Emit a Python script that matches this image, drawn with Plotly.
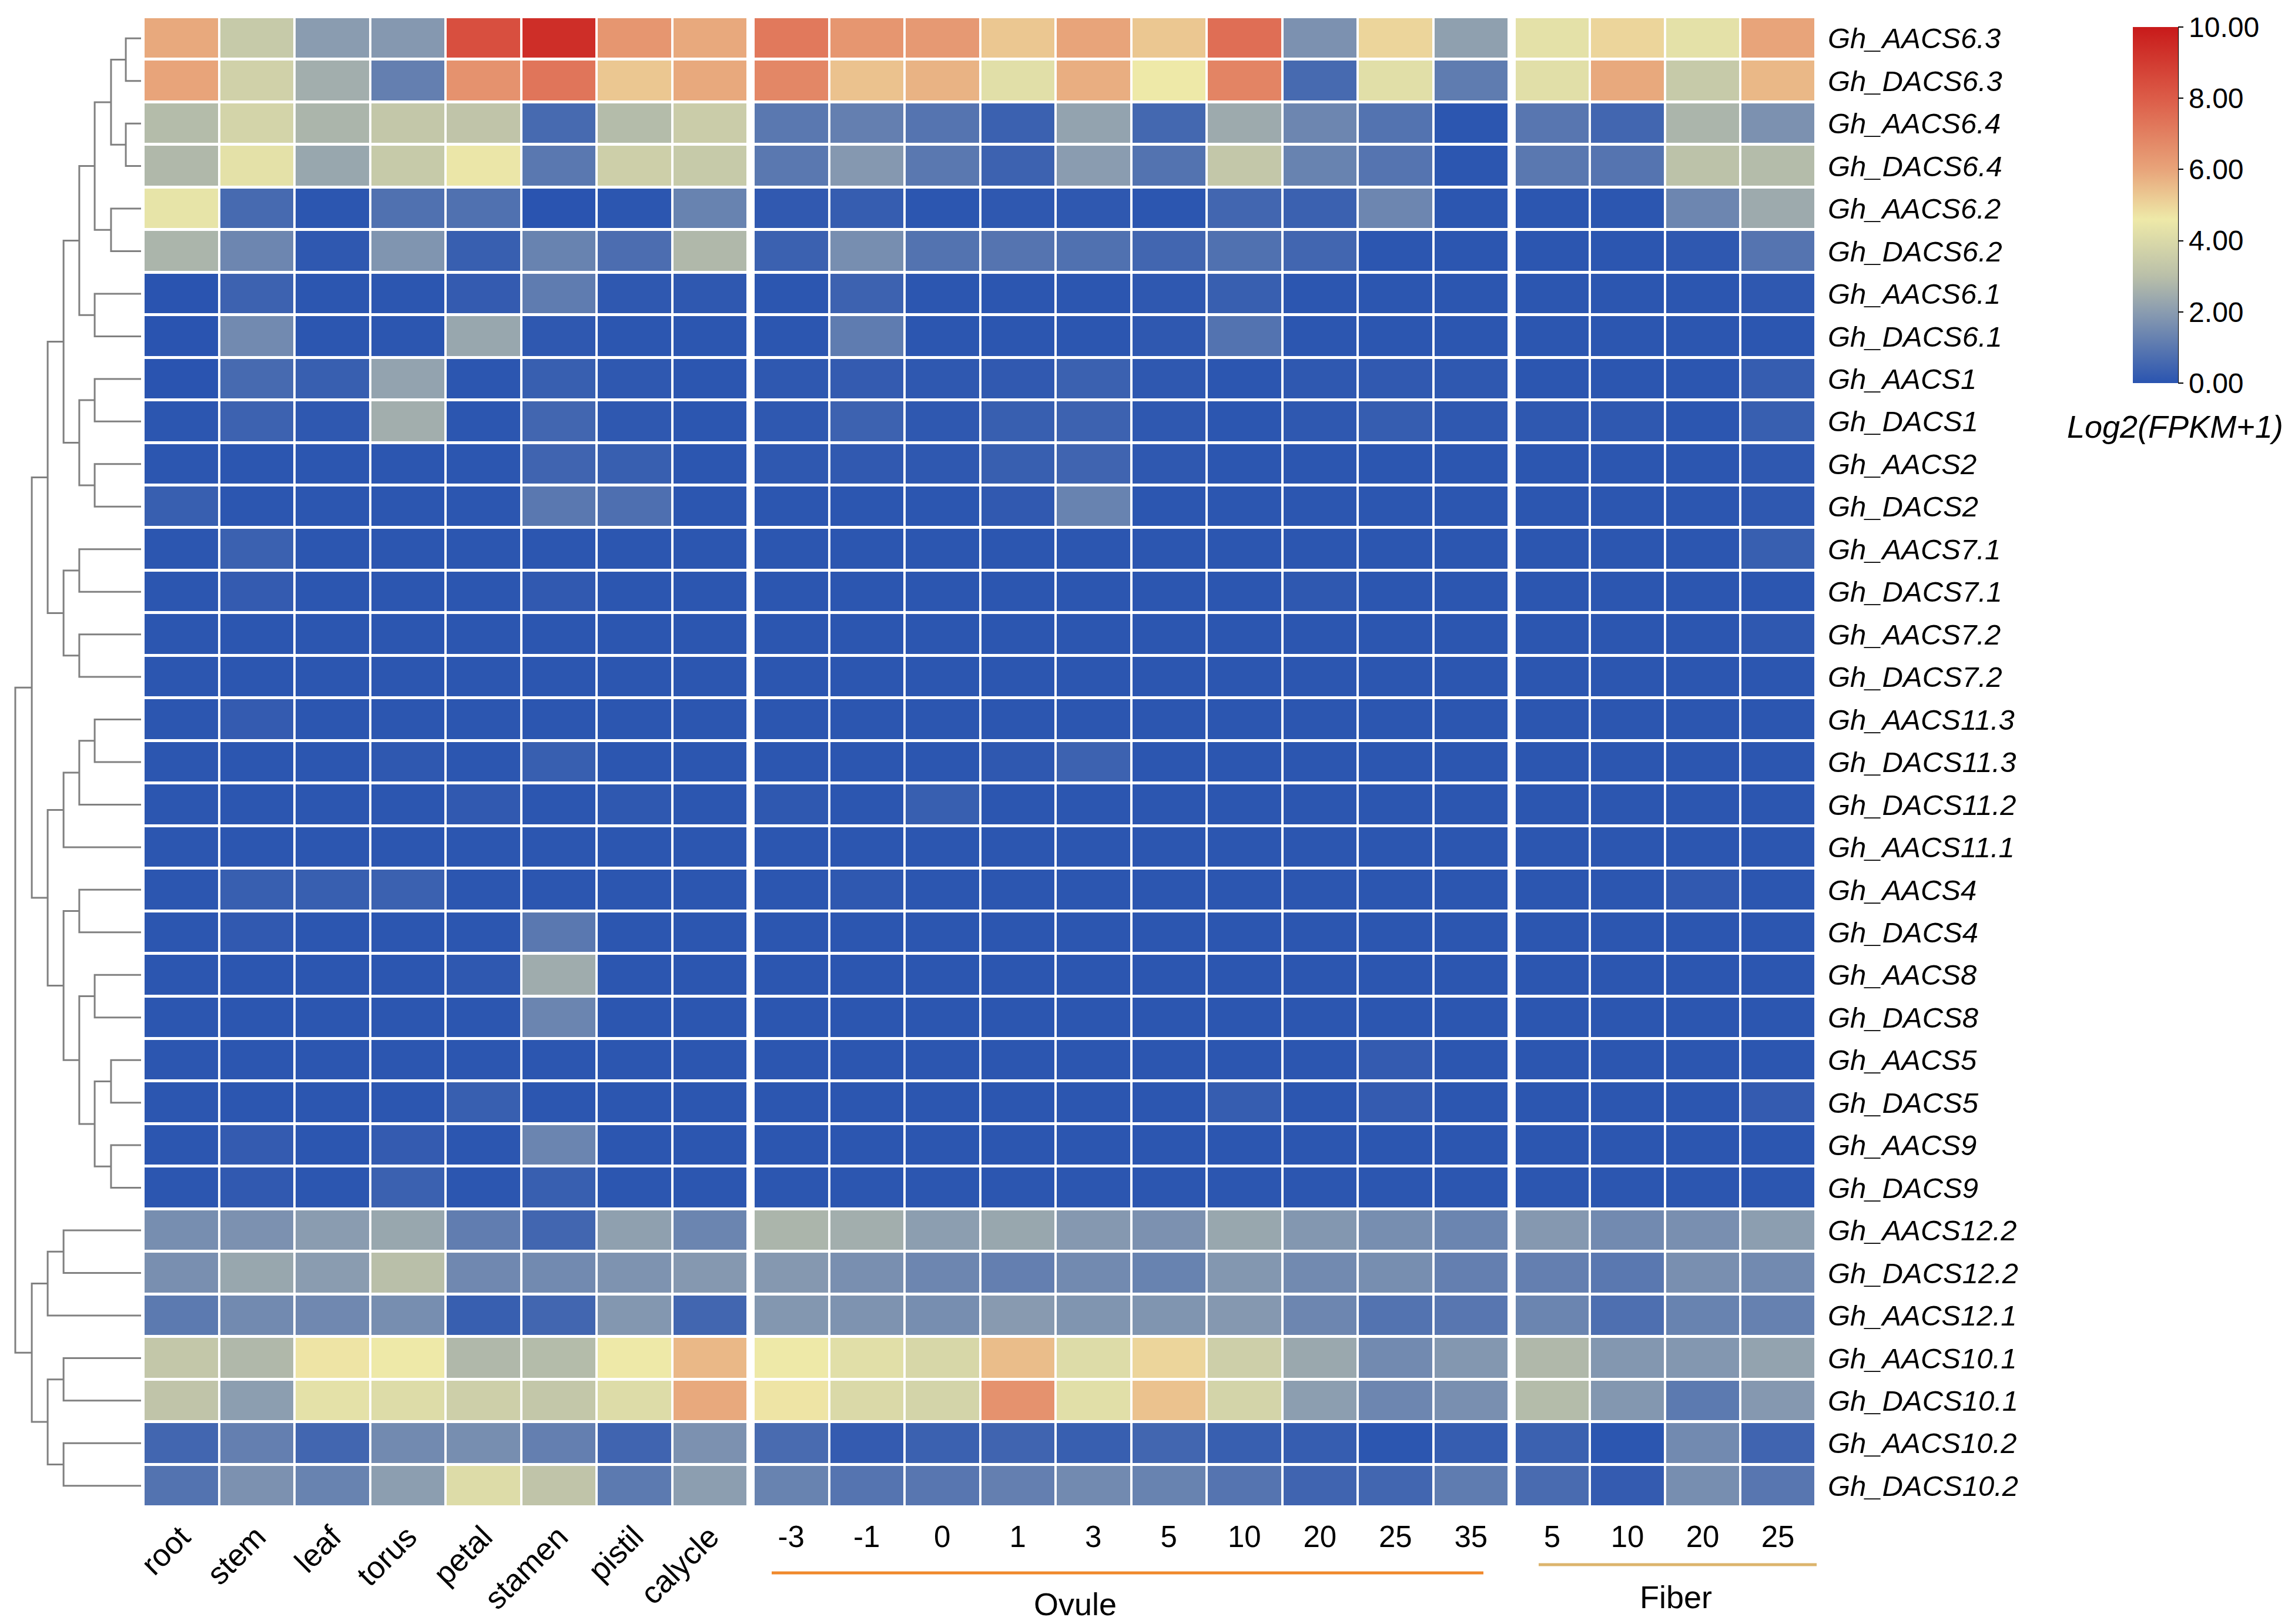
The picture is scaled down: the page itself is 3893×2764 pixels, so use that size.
import plotly.graph_objects as go

W, H = 3893, 2764
FONT = "Liberation Sans, Arial, sans-serif"

genes = [
    "Gh_AACS6.3", "Gh_DACS6.3", "Gh_AACS6.4", "Gh_DACS6.4", "Gh_AACS6.2", "Gh_DACS6.2",
    "Gh_AACS6.1", "Gh_DACS6.1", "Gh_AACS1", "Gh_DACS1", "Gh_AACS2", "Gh_DACS2",
    "Gh_AACS7.1", "Gh_DACS7.1", "Gh_AACS7.2", "Gh_DACS7.2", "Gh_AACS11.3", "Gh_DACS11.3",
    "Gh_DACS11.2", "Gh_AACS11.1", "Gh_AACS4", "Gh_DACS4", "Gh_AACS8", "Gh_DACS8",
    "Gh_AACS5", "Gh_DACS5", "Gh_AACS9", "Gh_DACS9", "Gh_AACS12.2", "Gh_DACS12.2",
    "Gh_AACS12.1", "Gh_AACS10.1", "Gh_DACS10.1", "Gh_AACS10.2", "Gh_DACS10.2",
]
tissues = ["root", "stem", "leaf", "torus", "petal", "stamen", "pistil", "calycle"]
ovule_days = ["-3", "-1", "0", "1", "3", "5", "10", "20", "25", "35"]
fiber_days = ["5", "10", "20", "25"]

# log2(FPKM+1)
tissue_values = [
    [5.9, 3.4, 2.0, 1.9, 8.4, 9.4, 6.4, 5.9],
    [6.0, 3.7, 2.5, 1.2, 6.5, 7.3, 5.3, 5.9],
    [2.9, 3.8, 2.7, 3.3, 3.2, 0.6, 2.9, 3.5],
    [2.8, 4.3, 2.3, 3.4, 4.5, 1.0, 3.6, 3.4],
    [4.4, 0.6, 0.05, 0.8, 0.8, 0.0, 0.05, 1.3],
    [2.7, 1.4, 0.1, 1.8, 0.3, 1.3, 0.7, 2.8],
    [0.0, 0.4, 0.05, 0.05, 0.2, 1.1, 0.1, 0.1],
    [0.0, 1.5, 0.05, 0.05, 2.3, 0.1, 0.05, 0.05],
    [0.0, 0.6, 0.3, 2.2, 0.05, 0.3, 0.1, 0.05],
    [0.05, 0.4, 0.1, 2.5, 0.05, 0.5, 0.1, 0.05],
    [0.05, 0.05, 0.05, 0.05, 0.05, 0.45, 0.3, 0.05],
    [0.3, 0.05, 0.05, 0.05, 0.05, 1.0, 0.75, 0.05],
    [0.05, 0.35, 0.05, 0.05, 0.05, 0.05, 0.05, 0.05],
    [0.05, 0.2, 0.05, 0.05, 0.05, 0.15, 0.05, 0.05],
    [0.05, 0.05, 0.05, 0.05, 0.05, 0.05, 0.05, 0.05],
    [0.05, 0.05, 0.05, 0.05, 0.05, 0.05, 0.05, 0.05],
    [0.05, 0.2, 0.05, 0.05, 0.05, 0.05, 0.05, 0.05],
    [0.05, 0.05, 0.05, 0.1, 0.05, 0.3, 0.05, 0.05],
    [0.05, 0.05, 0.05, 0.05, 0.15, 0.05, 0.1, 0.05],
    [0.05, 0.05, 0.05, 0.05, 0.05, 0.05, 0.05, 0.05],
    [0.05, 0.3, 0.3, 0.35, 0.05, 0.05, 0.05, 0.05],
    [0.05, 0.15, 0.05, 0.05, 0.05, 1.0, 0.05, 0.05],
    [0.05, 0.05, 0.05, 0.05, 0.1, 2.45, 0.05, 0.05],
    [0.05, 0.05, 0.05, 0.05, 0.05, 1.35, 0.05, 0.05],
    [0.05, 0.05, 0.05, 0.05, 0.05, 0.05, 0.05, 0.05],
    [0.05, 0.05, 0.05, 0.05, 0.3, 0.05, 0.05, 0.05],
    [0.05, 0.2, 0.05, 0.2, 0.05, 1.35, 0.05, 0.05],
    [0.05, 0.15, 0.05, 0.35, 0.05, 0.3, 0.05, 0.05],
    [1.6, 1.7, 2.0, 2.3, 1.15, 0.5, 2.1, 1.35],
    [1.65, 2.3, 2.0, 3.0, 1.45, 1.5, 1.75, 1.9],
    [1.05, 1.5, 1.45, 1.6, 0.3, 0.5, 1.85, 0.5],
    [3.3, 2.8, 4.7, 4.6, 2.8, 2.9, 4.6, 5.6],
    [3.2, 2.05, 4.3, 4.1, 3.6, 3.3, 4.1, 5.9],
    [0.5, 1.2, 0.5, 1.5, 1.6, 1.2, 0.45, 1.7],
    [0.85, 1.7, 1.3, 2.05, 4.1, 3.2, 1.05, 2.05],
]
ovule_values = [
    [7.2, 6.4, 6.3, 5.3, 6.0, 5.3, 7.5, 1.7, 5.0, 2.1],
    [6.8, 5.4, 5.7, 4.2, 5.8, 4.6, 6.9, 0.6, 4.2, 1.1],
    [1.0, 1.2, 0.9, 0.35, 2.2, 0.55, 2.4, 1.4, 0.85, 0.05],
    [1.0, 1.9, 1.0, 0.4, 2.0, 0.85, 3.3, 1.3, 0.9, 0.05],
    [0.15, 0.25, 0.05, 0.1, 0.1, 0.05, 0.5, 0.35, 1.4, 0.05],
    [0.35, 1.6, 0.85, 0.9, 0.8, 0.5, 0.8, 0.5, 0.05, 0.05],
    [0.05, 0.4, 0.05, 0.05, 0.05, 0.1, 0.3, 0.05, 0.05, 0.05],
    [0.05, 1.1, 0.05, 0.05, 0.05, 0.1, 0.85, 0.05, 0.05, 0.05],
    [0.1, 0.2, 0.1, 0.15, 0.35, 0.1, 0.05, 0.1, 0.15, 0.1],
    [0.1, 0.4, 0.1, 0.3, 0.4, 0.1, 0.05, 0.1, 0.25, 0.1],
    [0.1, 0.15, 0.1, 0.3, 0.45, 0.1, 0.05, 0.05, 0.05, 0.05],
    [0.05, 0.05, 0.05, 0.15, 1.3, 0.05, 0.05, 0.05, 0.05, 0.05],
    [0.05, 0.05, 0.05, 0.05, 0.05, 0.05, 0.05, 0.05, 0.05, 0.05],
    [0.05, 0.05, 0.05, 0.05, 0.05, 0.05, 0.05, 0.1, 0.05, 0.05],
    [0.05, 0.05, 0.05, 0.05, 0.05, 0.05, 0.05, 0.05, 0.05, 0.05],
    [0.05, 0.05, 0.05, 0.05, 0.05, 0.05, 0.05, 0.05, 0.05, 0.05],
    [0.05, 0.05, 0.05, 0.05, 0.05, 0.05, 0.05, 0.05, 0.05, 0.05],
    [0.05, 0.05, 0.05, 0.1, 0.4, 0.05, 0.05, 0.05, 0.05, 0.05],
    [0.1, 0.05, 0.3, 0.05, 0.05, 0.05, 0.05, 0.05, 0.05, 0.05],
    [0.05, 0.05, 0.05, 0.05, 0.05, 0.05, 0.05, 0.05, 0.05, 0.05],
    [0.05, 0.1, 0.05, 0.05, 0.05, 0.05, 0.05, 0.05, 0.05, 0.05],
    [0.05, 0.05, 0.05, 0.05, 0.05, 0.05, 0.05, 0.05, 0.05, 0.05],
    [0.05, 0.05, 0.05, 0.05, 0.05, 0.05, 0.05, 0.05, 0.05, 0.05],
    [0.05, 0.05, 0.05, 0.05, 0.05, 0.05, 0.05, 0.05, 0.05, 0.05],
    [0.05, 0.05, 0.05, 0.05, 0.05, 0.05, 0.05, 0.05, 0.2, 0.05],
    [0.05, 0.05, 0.05, 0.05, 0.05, 0.05, 0.25, 0.05, 0.2, 0.05],
    [0.05, 0.05, 0.05, 0.05, 0.05, 0.05, 0.05, 0.05, 0.05, 0.05],
    [0.05, 0.05, 0.05, 0.05, 0.05, 0.05, 0.05, 0.05, 0.05, 0.05],
    [2.7, 2.5, 2.05, 2.3, 1.9, 1.7, 2.3, 1.85, 1.6, 1.35],
    [1.9, 1.65, 1.4, 1.2, 1.5, 1.3, 1.85, 1.5, 1.6, 1.2],
    [1.85, 1.75, 1.6, 1.95, 1.8, 1.8, 1.9, 1.4, 0.85, 0.95],
    [4.6, 4.2, 3.9, 5.5, 4.1, 5.0, 3.6, 2.35, 1.5, 1.85],
    [4.7, 4.0, 3.8, 6.5, 4.2, 5.4, 3.8, 2.05, 1.4, 1.65],
    [0.65, 0.2, 0.35, 0.45, 0.3, 0.5, 0.3, 0.25, 0.05, 0.25],
    [1.3, 0.9, 0.95, 1.2, 1.5, 1.3, 0.9, 0.45, 0.5, 1.1],
]
fiber_values = [
    [4.3, 5.0, 4.3, 6.0],
    [4.2, 5.9, 3.4, 5.6],
    [0.95, 0.5, 2.7, 1.7],
    [1.0, 0.9, 3.1, 2.9],
    [0.05, 0.05, 1.4, 2.4],
    [0.05, 0.05, 0.1, 0.9],
    [0.05, 0.05, 0.05, 0.1],
    [0.05, 0.05, 0.05, 0.05],
    [0.05, 0.05, 0.05, 0.25],
    [0.1, 0.1, 0.05, 0.3],
    [0.05, 0.05, 0.05, 0.1],
    [0.05, 0.05, 0.05, 0.1],
    [0.05, 0.05, 0.05, 0.3],
    [0.05, 0.05, 0.05, 0.05],
    [0.05, 0.05, 0.05, 0.1],
    [0.05, 0.05, 0.05, 0.05],
    [0.05, 0.05, 0.05, 0.05],
    [0.05, 0.05, 0.05, 0.05],
    [0.05, 0.05, 0.05, 0.05],
    [0.05, 0.05, 0.05, 0.05],
    [0.05, 0.05, 0.15, 0.05],
    [0.05, 0.05, 0.05, 0.05],
    [0.05, 0.05, 0.05, 0.05],
    [0.05, 0.05, 0.05, 0.05],
    [0.05, 0.05, 0.05, 0.05],
    [0.05, 0.05, 0.05, 0.2],
    [0.05, 0.05, 0.05, 0.05],
    [0.05, 0.05, 0.05, 0.05],
    [1.9, 1.5, 1.65, 2.05],
    [1.2, 1.0, 1.65, 1.5],
    [1.35, 0.75, 1.3, 1.25],
    [2.8, 1.85, 1.85, 2.2],
    [2.9, 1.85, 1.05, 1.9],
    [0.35, 0.05, 1.5, 0.45],
    [0.65, 0.2, 1.6, 0.95],
]

# row dendrogram, scipy-style: leaves 0..34, merged nodes 35..68
merge_left = [0, 2, 35, 4, 37, 6, 39, 8, 10, 42, 41, 12, 14, 46, 45, 16, 50,
              51, 20, 22, 24, 26, 55, 54, 53, 52, 49, 28, 62, 31, 33, 64, 63, 61]
merge_right = [1, 3, 36, 5, 38, 7, 40, 9, 11, 43, 44, 13, 15, 47, 48, 17, 18,
               19, 21, 23, 25, 27, 56, 57, 58, 59, 60, 29, 30, 32, 34, 65, 66, 67]
merge_height = [0.97, 0.97, 1.91, 1.91, 2.95, 2.95, 3.93, 2.95, 2.95, 3.93, 4.93,
                3.93, 3.93, 4.93, 5.94, 2.95, 3.93, 4.93, 3.93, 2.95, 1.91, 1.91,
                2.95, 3.93, 4.93, 5.94, 6.95, 4.93, 5.94, 4.93, 4.93, 5.94, 6.95, 8.0]

cbar_ticks = [0, 2, 4, 6, 8, 10]

colorscale = [
    [0.0, "#2a54b0"], [0.1, "#5a78b0"], [0.2, "#8a9cb0"], [0.3, "#b9bfa9"],
    [0.46, "#eee9a8"], [0.6, "#e8a47a"], [0.8, "#dc5c48"], [1.0, "#c81a1a"],
]


def fx(p):
    return p / W


def fy(p):
    return 1 - p / H


n = len(genes)
rows = list(range(n))

# dendrogram segments
node_y = {i: float(i) for i in rows}
node_h = {i: 0.0 for i in rows}
dx, dy = [], []
for k, (a, b, h) in enumerate(zip(merge_left, merge_right, merge_height)):
    ya, yb = node_y[a], node_y[b]
    dx += [node_h[a], h, h, node_h[b], None]
    dy += [ya, ya, yb, yb, None]
    node_y[n + k] = (ya + yb) / 2
    node_h[n + k] = h

fig = go.Figure()

for cats, vals, xa in [(tissues, tissue_values, "x"),
                       (ovule_days, ovule_values, "x2"),
                       (fiber_days, fiber_values, "x3")]:
    fig.add_trace(go.Heatmap(x=cats, y=rows, z=vals, coloraxis="coloraxis",
                             xgap=4, ygap=5, xaxis=xa, yaxis="y"))

fig.add_trace(go.Scatter(x=dx, y=dy, mode="lines", xaxis="x4", yaxis="y",
                         line=dict(color="#808080", width=3), showlegend=False,
                         hoverinfo="skip"))

xcommon = dict(type="category", showgrid=False, zeroline=False, showline=False,
               ticks="", anchor="y")

fig.update_layout(
    width=W, height=H,
    margin=dict(l=0, r=0, t=0, b=0, autoexpand=False),
    paper_bgcolor="white", plot_bgcolor="white",
    showlegend=False,
    xaxis=dict(xcommon, domain=[fx(236), fx(1264)], tickangle=-45, ticklabelstandoff=8,
               tickfont=dict(family=FONT, size=53, color="black")),
    xaxis2=dict(xcommon, domain=[fx(1274), fx(2559)], tickangle=0, ticklabelstandoff=16,
                tickfont=dict(family=FONT, size=51, color="black")),
    xaxis3=dict(xcommon, domain=[fx(2569), fx(3081)], tickangle=0, ticklabelstandoff=16,
                tickfont=dict(family=FONT, size=51, color="black")),
    xaxis4=dict(domain=[0, fx(236)], range=[8.673, -0.149], visible=False, anchor="y"),
    yaxis=dict(domain=[fy(2557), fy(21)], range=[n - 0.5, -0.5], tickvals=rows,
               ticktext=genes, side="right", anchor="free", position=fx(3081),
               showgrid=False, zeroline=False, showline=False, ticks="",
               ticklabelstandoff=20,
               tickfont=dict(family=FONT, size=49, color="black", style="italic")),
    coloraxis=dict(
        cmin=0, cmax=10, colorscale=colorscale,
        colorbar=dict(x=fx(3621), xanchor="left", y=fy(38), yanchor="top",
                      len=606, lenmode="pixels", thickness=77, thicknessmode="pixels",
                      xpad=0, ypad=0, outlinewidth=0, tickvals=cbar_ticks,
                      tickformat=".2f", ticks="outside", ticklen=9, tickwidth=2,
                      tickcolor="black",
                      tickfont=dict(family=FONT, size=48, color="black")),
    ),
    shapes=[
        dict(type="line", xref="paper", yref="paper", x0=fx(3698), x1=fx(3698),
             y0=fy(38), y1=fy(644), line=dict(color="black", width=2)),
        dict(type="line", xref="paper", yref="paper", x0=fx(1305), x1=fx(2516),
             y0=fy(2669), y1=fy(2669), line=dict(color="#f0892c", width=5)),
        dict(type="line", xref="paper", yref="paper", x0=fx(2610), x1=fx(3083),
             y0=fy(2655), y1=fy(2655), line=dict(color="#dcb46c", width=5)),
    ],
    annotations=[
        dict(text="Ovule", x=fx(1821), y=fy(2722), xref="paper", yref="paper",
             xanchor="center", yanchor="middle", showarrow=False,
             font=dict(family=FONT, size=54, color="black")),
        dict(text="Fiber", x=fx(2843), y=fy(2710), xref="paper", yref="paper",
             xanchor="center", yanchor="middle", showarrow=False,
             font=dict(family=FONT, size=54, color="black")),
        dict(text="Log2(FPKM+1)", x=fx(3693), y=fy(718), xref="paper", yref="paper",
             xanchor="center", yanchor="middle", showarrow=False,
             font=dict(family=FONT, size=54, color="black", style="italic")),
    ],
)

fig.write_html("out.html")
